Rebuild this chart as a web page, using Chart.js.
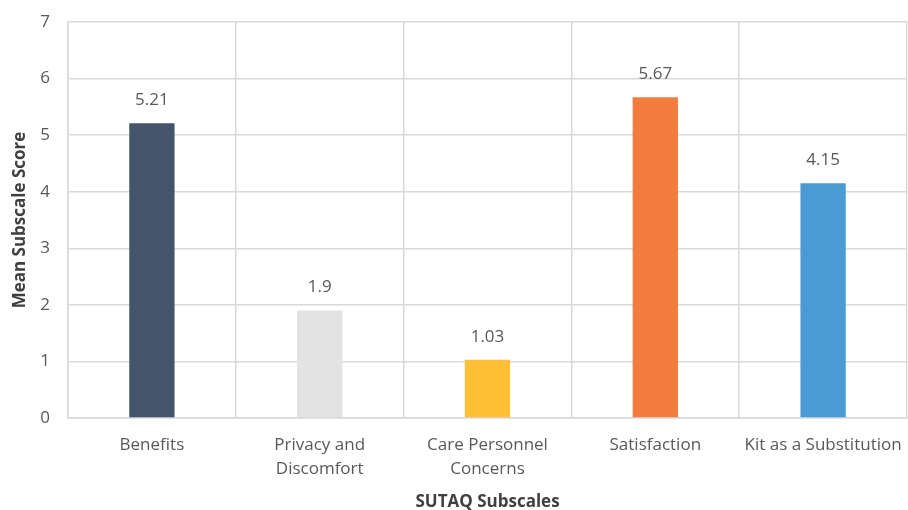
<!DOCTYPE html>
<html>
<head>
<meta charset="utf-8">
<script src="https://cdn.jsdelivr.net/npm/chart.js@4/dist/chart.umd.min.js"></script>
<style>
  html, body { margin: 0; padding: 0; background: #fff; }
  #wrap { width: 908px; height: 510px; }
</style>
</head>
<body>
<div id="wrap"><canvas id="grafico"></canvas></div>
<script>
// dados
const categorias = ['Benefits', ['Privacy and', 'Discomfort'], ['Care Personnel', 'Concerns'], 'Satisfaction', 'Kit as a Substitution'];
const medias = [5.21, 1.9, 1.03, 5.67, 4.15];
const rotulos = ['5.21', '1.9', '1.03', '5.67', '4.15'];
const ticksY = [0, 1, 2, 3, 4, 5, 6, 7];
const cores = ['#44546A', '#E3E3E3', '#FFC036', '#F47C3F', '#4A9AD4'];

const fonte = "'Open Sans', 'Liberation Sans', sans-serif";
const corTexto = '#595959';
const corTitulo = '#404040';

// escreve o valor acima de cada barra
const rotuloBarras = {
    id: 'rotuloBarras',
    afterDatasetsDraw(chart) {
        const ctx = chart.ctx;
        const meta = chart.getDatasetMeta(0);
        ctx.save();
        ctx.font = '17px ' + fonte;
        ctx.fillStyle = corTexto;
        ctx.textAlign = 'center';
        ctx.textBaseline = 'middle';
        meta.data.forEach((bar, i) => {
            ctx.fillText(rotulos[i], bar.x, bar.y - 23);
        });
        ctx.restore();
    }
};

new Chart(document.getElementById('grafico'), {
    type: 'bar',
    data: {
        labels: categorias,
        datasets: [{
            data: medias,
            backgroundColor: cores,
            borderWidth: 0,
            barPercentage: 0.27,
            categoryPercentage: 1
        }]
    },
    options: {
        responsive: true,
        maintainAspectRatio: false,
        animation: false,
        layout: { padding: { top: 22, right: 1, left: 0, bottom: 0 } },
        plugins: {
            legend: { display: false },
            tooltip: { enabled: false }
        },
        scales: {
            x: {
                grid: { color: '#D9D9D9', lineWidth: 1.5, drawTicks: false, offset: true },
                border: { color: '#D9D9D9', width: 1.5 },
                ticks: { color: corTexto, font: { family: fonte, size: 17, lineHeight: 1.4 }, padding: 15, maxRotation: 0, autoSkip: false },
                title: { display: true, text: 'SUTAQ Subscales', color: corTitulo, font: { family: fonte, size: 17, weight: 'bold', lineHeight: 1 }, padding: { top: 0, bottom: -1 } },
                afterFit(scale) {
                    scale.height = 92;
                    scale.paddingLeft = 0;
                    scale.paddingRight = 0;
                }
            },
            y: {
                min: 0,
                max: 7,
                afterBuildTicks(scale) { scale.ticks = ticksY.map(v => ({ value: v })); },
                grid: { color: '#D9D9D9', lineWidth: 1.5, drawTicks: false },
                border: { color: '#D9D9D9', width: 1.5 },
                ticks: { color: corTexto, font: { family: fonte, size: 17 }, padding: 18 },
                title: { display: true, text: 'Mean Subscale Score', color: corTitulo, font: { family: fonte, size: 17, weight: 'bold', lineHeight: 1.2 }, padding: { top: 10, bottom: 0 } },
                afterFit(scale) {
                    scale.width = 68;
                    scale.paddingTop = 0;
                    scale.paddingBottom = 0;
                }
            }
        }
    },
    plugins: [rotuloBarras]
});
</script>
</body>
</html>
